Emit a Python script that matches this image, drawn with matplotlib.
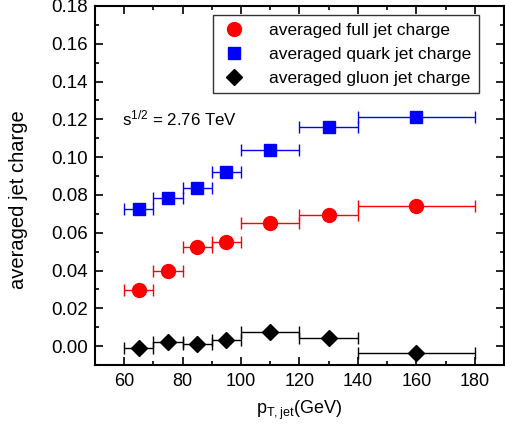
import matplotlib
matplotlib.use("Agg")
import matplotlib.pyplot as plt
from matplotlib.lines import Line2D
from matplotlib.ticker import MultipleLocator
import numpy as np

plt.rcParams['font.family'] = ['Liberation Sans', 'DejaVu Sans']
plt.rcParams['mathtext.fontset'] = 'custom'
plt.rcParams['mathtext.rm'] = 'Liberation Sans'
plt.rcParams['mathtext.it'] = 'Liberation Sans'

pt = [65, 75, 85, 95, 110, 130, 160]
bin_lo = [60, 70, 80, 90, 100, 120, 140]
bin_hi = [70, 80, 90, 100, 120, 140, 180]
full = [0.0296, 0.0397, 0.0522, 0.0550, 0.0652, 0.0693, 0.0743]
quark = [0.0724, 0.0782, 0.0835, 0.0919, 0.1038, 0.1161, 0.1214]
gluon = [-0.0009, 0.0021, 0.0009, 0.0032, 0.0076, 0.0041, -0.0039]

xerr = [np.array(pt) - np.array(bin_lo), np.array(bin_hi) - np.array(pt)]

fig = plt.figure(figsize=(5.06, 4.32), dpi=100)
ax = fig.add_axes([95/506, (432-365)/432, 409/506, 359/432])

series = [
    (full, 'red', 'o', 10, 'averaged full jet charge'),
    (quark, 'blue', 's', 8.5, 'averaged quark jet charge'),
    (gluon, 'black', 'D', 8.5, 'averaged gluon jet charge'),
]
handles = []
for vals, col, mk, ms, lab in series:
    ax.errorbar(pt, vals, xerr=xerr, fmt='none', ecolor=col, elinewidth=1.0,
                capsize=4, capthick=1.0)
    ax.plot(pt, vals, linestyle='none', marker=mk, color=col, markersize=ms,
            markeredgecolor=col)
    handles.append(Line2D([], [], linestyle='none', marker=mk, color=col,
                          markersize=ms, markeredgecolor=col, label=lab))

ax.set_xlim(50, 190)
ax.set_ylim(-0.01, 0.18)
ax.xaxis.set_major_locator(MultipleLocator(20))
ax.xaxis.set_minor_locator(MultipleLocator(10))
ax.yaxis.set_major_locator(MultipleLocator(0.02))
ax.yaxis.set_minor_locator(MultipleLocator(0.01))
ax.yaxis.set_major_formatter(matplotlib.ticker.FormatStrFormatter('%.2f'))
ax.tick_params(which='both', direction='in', top=True, right=True,
               labeltop=False, labelright=False, width=1.2)
ax.tick_params(which='major', length=6, labelsize=13.5, pad=5)
ax.tick_params(axis='x', which='major', labelsize=13, pad=6)
ax.tick_params(which='minor', length=3)
for s in ax.spines.values():
    s.set_linewidth(1.5)

ax.set_xlabel(r'p$_{\mathrm{T,jet}}$(GeV)', fontsize=13, labelpad=6)
ax.set_ylabel('averaged jet charge', fontsize=14.5)
ax.yaxis.set_label_coords(-0.165, 0.46)

ax.text(59.3, 0.1205, r's$^{1/2}$ = 2.76 TeV', fontsize=12.2, va='center', ha='left')

leg = ax.legend(handles=handles, loc='upper right', bbox_to_anchor=(0.939, 0.975),
                borderaxespad=0, fontsize=12.5, frameon=True, fancybox=False,
                edgecolor='black', handletextpad=1.2, labelspacing=0.5,
                borderpad=0.45, handlelength=1.6)
leg.get_frame().set_linewidth(1.0)

fig.savefig('out.png', dpi=100)
